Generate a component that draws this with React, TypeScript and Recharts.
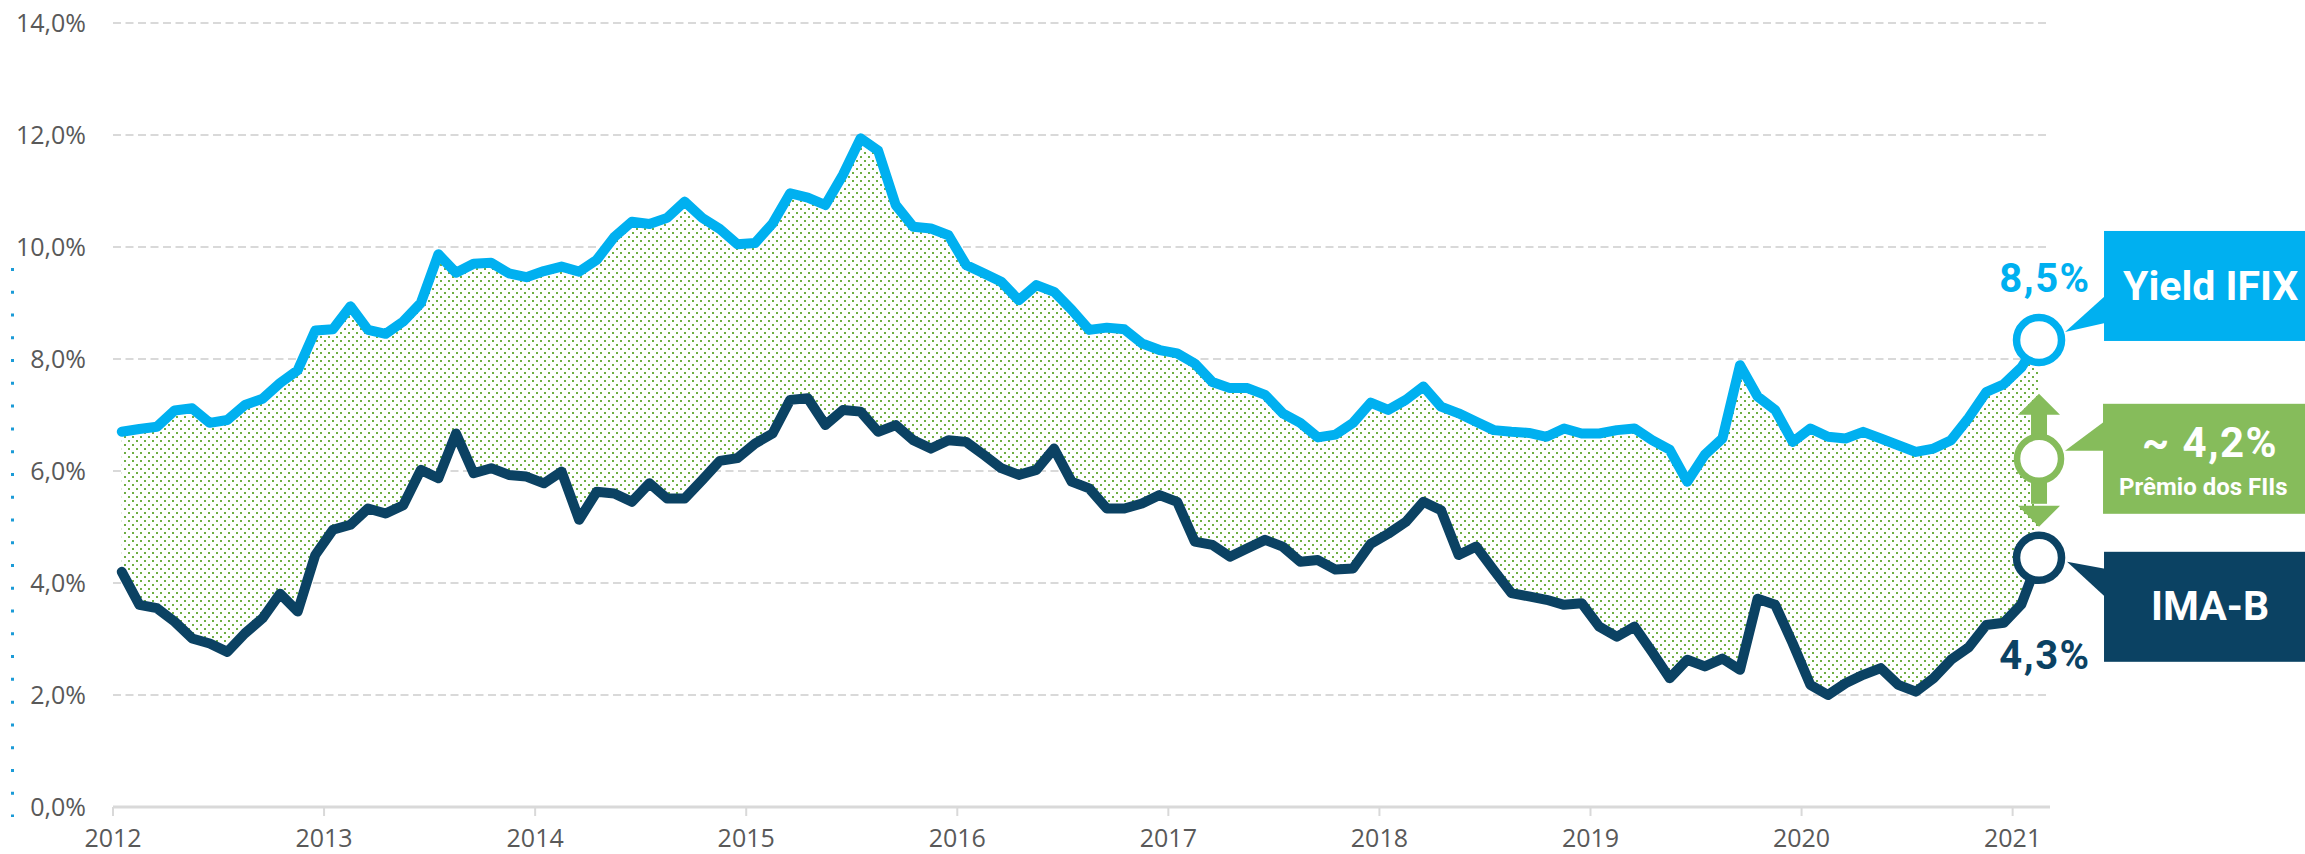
import React from 'react';
import { ComposedChart, Line, Area, XAxis, YAxis, CartesianGrid } from 'recharts';

// ---------- data (monthly, Jan 2012 -> Feb 2021) ----------
const START_YEAR = 2012;

const IFIX_YIELD: number[] = [
  6.70, 6.75, 6.79, 7.08, 7.12, 6.86, 6.91, 7.18, 7.29, 7.57, 7.80, 8.51,
  8.53, 8.94, 8.52, 8.45, 8.67, 9.00, 9.87, 9.54, 9.70, 9.72, 9.53, 9.46,
  9.57, 9.65, 9.56, 9.77, 10.18, 10.45, 10.41, 10.52, 10.81, 10.52, 10.32, 10.05,
  10.07, 10.42, 10.96, 10.88, 10.75, 11.29, 11.94, 11.72, 10.75, 10.36, 10.33, 10.21,
  9.68, 9.53, 9.38, 9.05, 9.32, 9.20, 8.88, 8.52, 8.56, 8.53, 8.28, 8.16,
  8.10, 7.92, 7.59, 7.48, 7.48, 7.36, 7.03, 6.86, 6.60, 6.65, 6.86, 7.22,
  7.09, 7.27, 7.51, 7.15, 7.03, 6.88, 6.73, 6.70, 6.68, 6.61, 6.76, 6.67,
  6.67, 6.73, 6.76, 6.55, 6.38, 5.81, 6.29, 6.58, 7.89, 7.33, 7.09, 6.52,
  6.76, 6.61, 6.58, 6.70, 6.58, 6.46, 6.34, 6.40, 6.55, 6.95, 7.41, 7.55,
  7.85, 8.34,
];

const IMA_B: number[] = [
  4.20, 3.61, 3.55, 3.31, 3.01, 2.92, 2.77, 3.10, 3.37, 3.81, 3.49, 4.50,
  4.95, 5.04, 5.33, 5.24, 5.39, 6.02, 5.87, 6.67, 5.96, 6.05, 5.93, 5.90,
  5.78, 5.99, 5.13, 5.63, 5.60, 5.45, 5.78, 5.51, 5.51, 5.84, 6.18, 6.23,
  6.49, 6.67, 7.27, 7.30, 6.82, 7.09, 7.06, 6.70, 6.82, 6.55, 6.40, 6.55,
  6.52, 6.29, 6.05, 5.93, 6.02, 6.40, 5.81, 5.69, 5.33, 5.33, 5.42, 5.57,
  5.45, 4.74, 4.68, 4.47, 4.62, 4.77, 4.65, 4.38, 4.41, 4.24, 4.26, 4.70,
  4.88, 5.09, 5.45, 5.30, 4.50, 4.65, 4.23, 3.82, 3.76, 3.70, 3.61, 3.64,
  3.22, 3.04, 3.22, 2.77, 2.30, 2.63, 2.51, 2.65, 2.45, 3.72, 3.61, 2.92,
  2.18, 2.00, 2.21, 2.36, 2.48, 2.18, 2.06, 2.30, 2.63, 2.85, 3.25, 3.29,
  3.62, 4.45,
];

const YEAR_TICKS: number[] = [2012, 2013, 2014, 2015, 2016, 2017, 2018, 2019, 2020, 2021];
const PCT_TICKS: number[] = [0, 2, 4, 6, 8, 10, 12, 14];

const LABEL_IFIX = 'Yield IFIX';
const LABEL_IMAB = 'IMA-B';
const LABEL_IFIX_END = '8,5%';
const LABEL_IMAB_END = '4,3%';
const LABEL_PREMIUM = '~ 4,2%';
const LABEL_PREMIUM_SUB = 'Prêmio dos FIIs';

// ---------- styling ----------
const BLUE = '#00b0f0';
const NAVY = '#0b4263';
const GREEN = '#86bc5b';
const DOT_GREEN = '#6fae44';
const GRID = '#d9d9d9';
const TEXT = '#595959';
const ANNOT_FONT = 'Roboto, "Open Sans", sans-serif';
const TICK_FONT = '"Open Sans", Roboto, sans-serif';

const rows = IFIX_YIELD.map((v, i) => ({
  x: START_YEAR + (i + 0.5) / 12,
  ifix: v,
  imab: IMA_B[i],
  range: [IMA_B[i], v],
}));
const LAST = rows.length - 1;

const fmtPct = (v: number) => v.toFixed(1).replace('.', ',') + '%';

const renderIfixDot = (props: any) => {
  const { cx, cy, index } = props;
  if (index !== LAST) return <g key={`ifix-${index}`} />;
  return (
    <g key="ifix-end">
      <rect x={cx + 65} y={cy - 109} width={320} height={110} fill={BLUE} />
      <polygon
        points={`${cx + 66},${cy - 44} ${cx + 26},${cy - 8} ${cx + 66},${cy - 17}`}
        fill={BLUE}
      />
      <circle cx={cx} cy={cy} r={22.5} fill="#fff" stroke={BLUE} strokeWidth={7.5} />
      <text
        x={cx + 6}
        y={cy - 48}
        textAnchor="middle"
        fontFamily={ANNOT_FONT}
        fontWeight={700}
        fontSize={40}
        fill={BLUE}
        letterSpacing={1.5}
      >
        {LABEL_IFIX_END}
      </text>
      <text
        x={cx + 84}
        y={cy - 40}
        textAnchor="start"
        fontFamily={ANNOT_FONT}
        fontWeight={700}
        fontSize={41}
        fill="#fff"
      >
        {LABEL_IFIX}
      </text>
    </g>
  );
};

const renderImabDot = (props: any) => {
  const { cx, cy, index } = props;
  if (index !== LAST) return <g key={`imab-${index}`} />;
  const gy = cy - 99; // premium marker centre
  return (
    <g key="imab-end">
      {/* premium (green) */}
      <rect x={cx + 64} y={gy - 55} width={320} height={110} fill={GREEN} />
      <polygon
        points={`${cx + 65},${gy - 37} ${cx + 26},${gy - 8} ${cx + 65},${gy - 8}`}
        fill={GREEN}
      />
      <rect x={cx - 8} y={gy - 45} width={16} height={90} fill={GREEN} />
      <polygon
        points={`${cx},${gy - 65} ${cx - 21},${gy - 44} ${cx + 21},${gy - 44}`}
        fill={GREEN}
      />
      <polygon
        points={`${cx},${gy + 68} ${cx - 21},${gy + 47} ${cx + 21},${gy + 47}`}
        fill={GREEN}
      />
      <circle cx={cx} cy={gy} r={22} fill="#fff" stroke={GREEN} strokeWidth={6.5} />
      <text
        x={cx + 171}
        y={gy - 2}
        textAnchor="middle"
        fontFamily={ANNOT_FONT}
        fontWeight={700}
        fontSize={42}
        fill="#fff"
        letterSpacing={1.5}
      >
        {LABEL_PREMIUM}
      </text>
      <text
        x={cx + 80}
        y={gy + 36}
        textAnchor="start"
        fontFamily={ANNOT_FONT}
        fontWeight={700}
        fontSize={24}
        fill="#fff"
      >
        {LABEL_PREMIUM_SUB}
      </text>

      {/* IMA-B (navy) */}
      <rect x={cx + 65} y={cy - 6} width={320} height={110} fill={NAVY} />
      <polygon
        points={`${cx + 66},${cy + 11} ${cx + 28},${cy + 4} ${cx + 66},${cy + 39}`}
        fill={NAVY}
      />
      <circle cx={cx} cy={cy} r={22.5} fill="#fff" stroke={NAVY} strokeWidth={7.5} />
      <text
        x={cx + 171}
        y={cy + 62}
        textAnchor="middle"
        fontFamily={ANNOT_FONT}
        fontWeight={700}
        fontSize={41}
        fill="#fff"
      >
        {LABEL_IMAB}
      </text>
      <text
        x={cx + 6}
        y={cy + 111}
        textAnchor="middle"
        fontFamily={ANNOT_FONT}
        fontWeight={700}
        fontSize={40}
        fill={NAVY}
        letterSpacing={1.5}
      >
        {LABEL_IMAB_END}
      </text>
    </g>
  );
};

export default function App() {
  return (
    <div style={{ position: 'relative', width: 2305, height: 854, overflow: 'hidden', background: '#fff' }}>
      <style>{`html,body{margin:0;padding:0;overflow:hidden;background:#fff}`}</style>
      <svg
        width={20}
        height={854}
        style={{ position: 'absolute', left: 0, top: 0 }}
      >
        <line
          x1={12.5}
          x2={12.5}
          y1={268}
          y2={817}
          stroke="#1b9bd7"
          strokeWidth={3}
          strokeDasharray="3 19.77"
        />
      </svg>
      <ComposedChart
        width={2305}
        height={854}
        data={rows}
        margin={{ top: 23, right: 255, bottom: 0, left: 0 }}
      >
        <defs>
          <pattern id="premiumDots" x={0} y={0} width={8} height={8} patternUnits="userSpaceOnUse">
            <rect x={0} y={0} width={8} height={8} fill="#fff" />
            <rect x={0} y={0} width={2} height={2} fill={DOT_GREEN} />
            <rect x={4} y={4} width={2} height={2} fill={DOT_GREEN} />
          </pattern>
        </defs>
        <CartesianGrid
          vertical={false}
          stroke={GRID}
          strokeWidth={2}
          strokeDasharray="8 4.5"
        />
        <XAxis
          type="number"
          dataKey="x"
          domain={[2012, 2021.177]}
          ticks={YEAR_TICKS}
          allowDecimals={false}
          height={47}
          tickSize={9}
          tickMargin={13}
          axisLine={{ stroke: GRID, strokeWidth: 3 }}
          tickLine={{ stroke: GRID, strokeWidth: 2 }}
          tick={{ fill: TEXT, fontSize: 25, fontFamily: TICK_FONT }}
          tickFormatter={(v: number) => String(v)}
        />
        <YAxis
          type="number"
          domain={[0, 14]}
          ticks={PCT_TICKS}
          width={113}
          axisLine={false}
          tickLine={false}
          tickSize={0}
          tickMargin={27}
          tick={{ fill: TEXT, fontSize: 25, fontFamily: TICK_FONT }}
          tickFormatter={fmtPct}
        />
        <Area
          type="linear"
          dataKey="range"
          stroke="none"
          fill="url(#premiumDots)"
          fillOpacity={1}
          isAnimationActive={false}
          activeDot={false}
        />
        <Line
          type="linear"
          dataKey="ifix"
          stroke={BLUE}
          strokeWidth={10}
          strokeLinejoin="round"
          strokeLinecap="round"
          dot={renderIfixDot}
          activeDot={false}
          isAnimationActive={false}
        />
        <Line
          type="linear"
          dataKey="imab"
          stroke={NAVY}
          strokeWidth={10}
          strokeLinejoin="round"
          strokeLinecap="round"
          dot={renderImabDot}
          activeDot={false}
          isAnimationActive={false}
        />
      </ComposedChart>
    </div>
  );
}
